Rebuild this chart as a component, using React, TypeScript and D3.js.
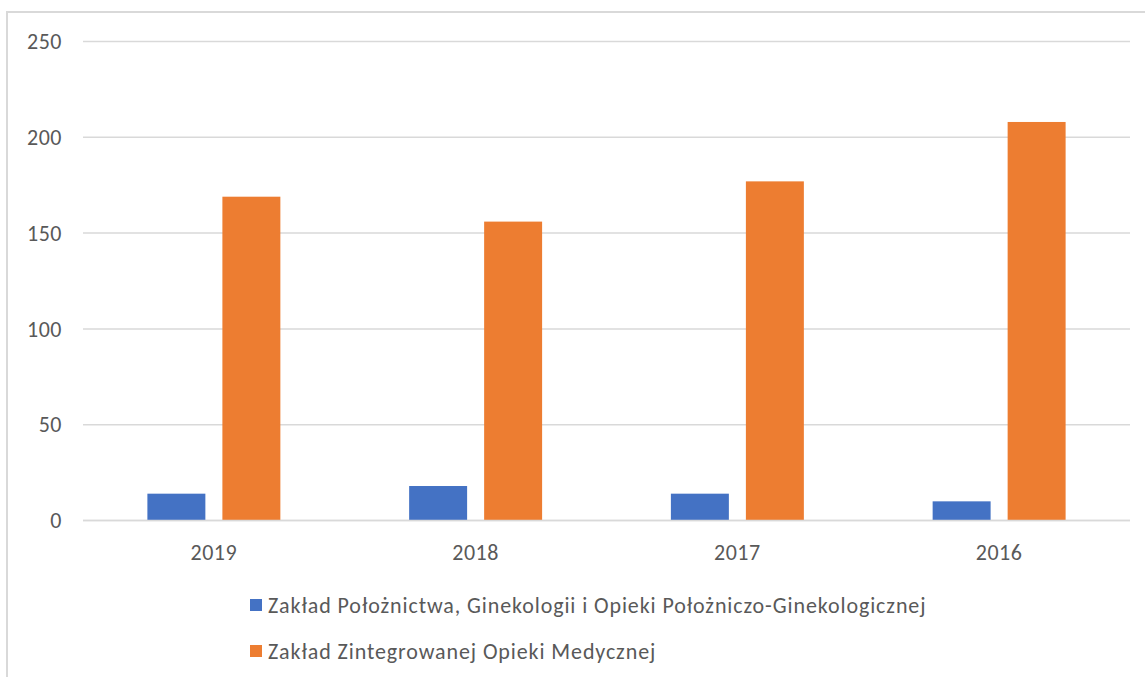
import React, { useEffect, useRef } from 'react';
import * as d3 from 'd3';

const years = ['2019', '2018', '2017', '2016'];
const seriesNames = [
  'Zakład Położnictwa, Ginekologii i Opieki Położniczo-Ginekologicznej',
  'Zakład Zintegrowanej Opieki Medycznej',
];
const ginekologia = [14, 18, 14, 10];
const zintegrowana = [169, 156, 177, 208];
const yTicks = [0, 50, 100, 150, 200, 250];
const colors = ['#4472C4', '#ED7D31'];

const App = () => {
  const ref = useRef<SVGSVGElement>(null);

  useEffect(() => {
    const width = 1145, height = 677;
    const margin = { top: 41.5, right: 15, bottom: 156.5, left: 83 };
    const font = 'Calibri, Carlito, Lato, sans-serif';

    const svg = d3.select(ref.current);
    svg.selectAll('*').remove();

    // frame of the chart area
    svg.append('rect')
      .attr('x', 7).attr('y', 12)
      .attr('width', 1160).attr('height', 700)
      .attr('fill', 'white')
      .attr('stroke', '#d9d9d9')
      .attr('stroke-width', 2);

    const x0 = d3.scaleBand()
      .domain(years)
      .range([margin.left, width - margin.right])
      .paddingInner(0.492)
      .paddingOuter(0.246);

    const x1 = d3.scaleBand()
      .domain(['0', '1'])
      .range([0, x0.bandwidth()])
      .paddingInner(0.227);

    const y = d3.scaleLinear()
      .domain([0, 250])
      .range([height - margin.bottom, margin.top]);

    // gridlines
    svg.append('g')
      .selectAll('line')
      .data(yTicks)
      .enter().append('line')
      .attr('x1', margin.left)
      .attr('x2', width - margin.right)
      .attr('y1', (d) => y(d))
      .attr('y2', (d) => y(d))
      .attr('stroke', '#d9d9d9')
      .attr('stroke-width', 1.5);

    // y labels
    svg.append('g')
      .selectAll('text')
      .data(yTicks)
      .enter().append('text')
      .attr('x', 62)
      .attr('y', (d) => y(d))
      .attr('dy', '0.35em')
      .attr('text-anchor', 'end')
      .attr('fill', '#595959')
      .style('font-family', font)
      .style('font-size', '22px')
      .style('letter-spacing', '0.5px')
      .text((d) => d);

    const series = [ginekologia, zintegrowana];
    const groups = svg.append('g')
      .selectAll('g')
      .data(years)
      .enter().append('g')
      .attr('transform', (d) => 'translate(' + x0(d) + ',0)');

    groups.selectAll('rect')
      .data((d, i) => series.map((s, k) => ({ k, v: s[i] })))
      .enter().append('rect')
      .attr('x', (d) => x1(String(d.k)) as number)
      .attr('width', x1.bandwidth())
      .attr('y', (d) => y(d.v))
      .attr('height', (d) => y(0) - y(d.v))
      .attr('fill', (d) => colors[d.k]);

    // baseline over bars
    svg.append('line')
      .attr('x1', margin.left).attr('x2', width - margin.right)
      .attr('y1', y(0)).attr('y2', y(0))
      .attr('stroke', '#d9d9d9')
      .attr('stroke-width', 1.5);

    // x labels
    svg.append('g')
      .selectAll('text')
      .data(years)
      .enter().append('text')
      .attr('x', (d) => (x0(d) as number) + x0.bandwidth() / 2)
      .attr('y', 560)
      .attr('text-anchor', 'middle')
      .attr('fill', '#595959')
      .style('font-family', font)
      .style('font-size', '22px')
      .style('letter-spacing', '0.5px')
      .text((d) => d);

    // legend
    const legend = svg.append('g')
      .selectAll('g')
      .data(seriesNames)
      .enter().append('g')
      .attr('transform', (d, i) => 'translate(250,' + (599 + i * 46) + ')');

    legend.append('rect')
      .attr('width', 12).attr('height', 12)
      .attr('fill', (d, i) => colors[i]);

    legend.append('text')
      .attr('x', 18)
      .attr('y', 13.5)
      .attr('fill', '#595959')
      .style('font-family', font)
      .style('font-size', '22px')
      .style('letter-spacing', '0.9px')
      .text((d) => d);
  }, []);

  return (
    <svg ref={ref} width={1145} height={677}
      style={{ position: 'absolute', left: 0, top: 0, background: 'white' }} />
  );
};

export default App;
